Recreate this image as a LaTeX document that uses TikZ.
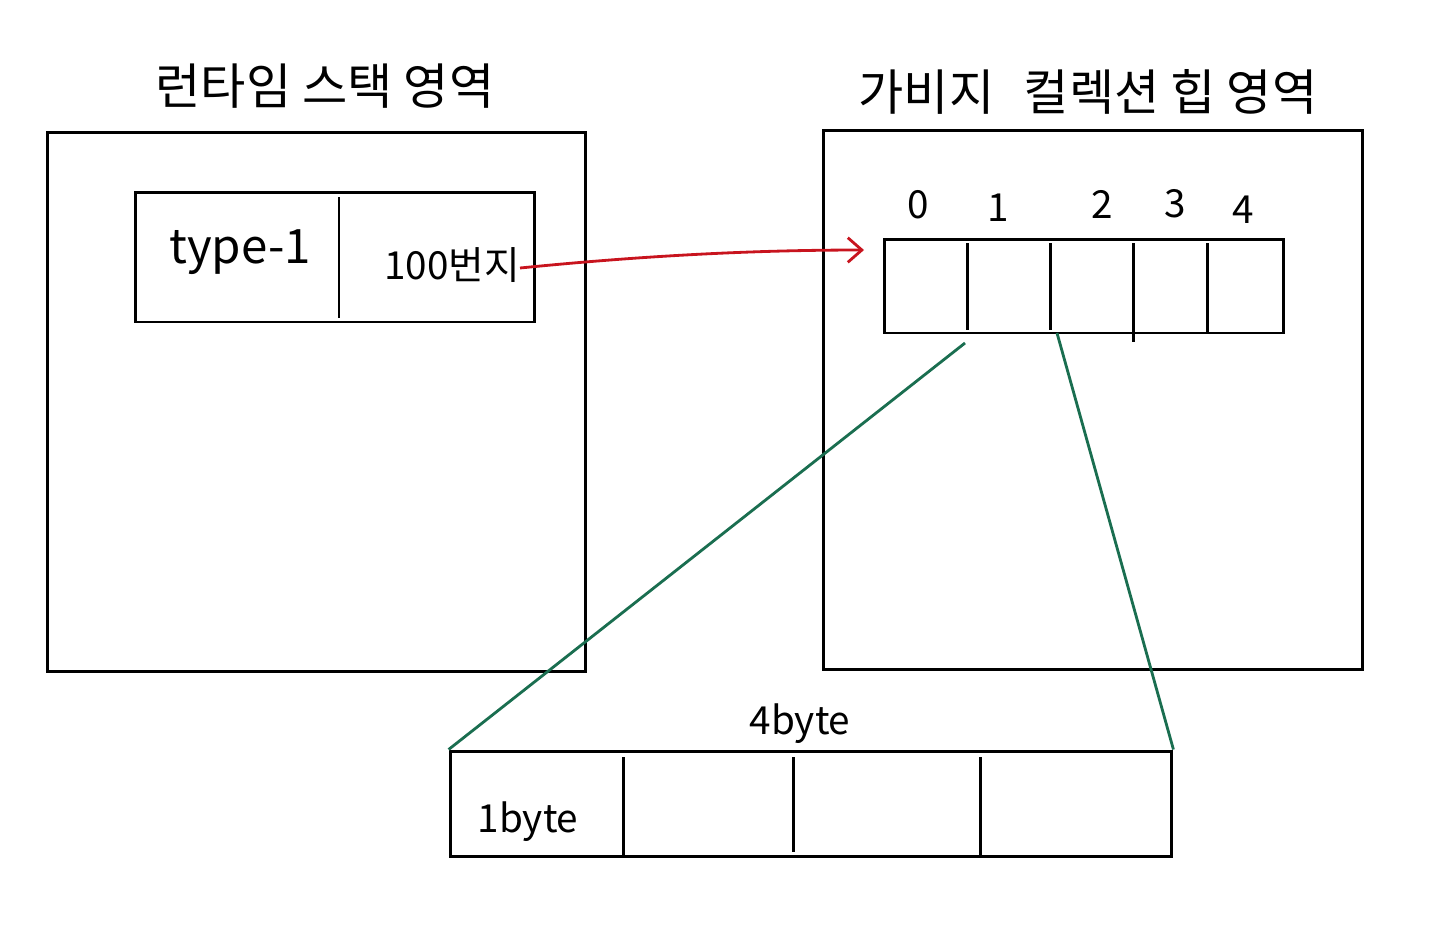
\documentclass[tikz,border=0pt]{standalone}
\usepackage{fontspec}
\setmainfont{Noto Sans CJK KR}
\usetikzlibrary{arrows.meta}
\definecolor{penred}{HTML}{C8141E}
\definecolor{pengreen}{HTML}{1A6E50}
\tikzset{
  box/.style={draw=black, line width=1.7pt, inner sep=0pt},
  div/.style={draw=black, line width=1.7pt},
  ttl/.style={font=\fontsize{28}{32}\selectfont, inner sep=0pt},
  lbl/.style={font=\fontsize{22}{26}\selectfont, inner sep=0pt},
  redarrow/.style={draw=penred, line width=1.6pt, -{Straight Barb[length=8pt,width=14pt]}},
  greenline/.style={draw=pengreen, line width=1.6pt},
}
\begin{document}
\begin{tikzpicture}[x=0.02cm,y=-0.02cm]
\useasboundingbox (0,0) rectangle (1440,948);
% left: runtime stack
\node[ttl] (t1) at (325,86) {런타임 스택 영역};
\node[box, minimum width=10.78cm, minimum height=10.8cm] (stack) at (316.5,402) {};
\node[box, minimum width=8cm, minimum height=2.6cm] (frame) at (335,257) {};
\draw[div] (339,197) -- (339,318);
\node[font=\fontsize{27}{30}\selectfont, inner sep=0pt] (type) at (240,252) {type-1};
\node[lbl] (addr) at (452,265) {100번지};
% right: GC heap
\node[ttl] (t2) at (1088,92) {가비지\hspace{0.6em}컬렉션 힙 영역};
\node[box, minimum width=10.8cm, minimum height=10.8cm] (heap) at (1093,400) {};
\node[box, minimum width=8cm, minimum height=1.88cm] (arr) at (1084,286) {};
\draw[div] (967,243) -- (967,330);
\draw[div] (1050,243) -- (1050,330);
\draw[div] (1133,243) -- (1133,342);
\draw[div] (1207,243) -- (1207,333);
\node[lbl] (i0) at (918,205) {0};
\node[lbl] (i1) at (998,208) {1};
\node[lbl] (i2) at (1102,204) {2};
\node[lbl] (i3) at (1175,204) {3};
\node[lbl] (i4) at (1243,210) {4};
% bottom: 4 byte
\node[box, minimum width=14.44cm, minimum height=2.1cm] (word) at (811,803.5) {};
\draw[div] (623,757) -- (623,856);
\draw[div] (793,757) -- (793,852);
\draw[div] (980,757) -- (980,858);
\node[lbl] (b4) at (800,724) {4byte};
\node[lbl] (b1) at (528,822) {1byte};
% connectors
\coordinate (rs) at (520,268);
\coordinate (re) at (864,250);
\draw[redarrow] (rs) .. controls (650,255) and (760,250) .. (re);
\coordinate (g1) at (965,343);
\coordinate (g2) at (1057,333);
\draw[greenline] (g1) -- (word.north west);
\draw[greenline] (g2) -- (word.north east);
\end{tikzpicture}
\end{document}
